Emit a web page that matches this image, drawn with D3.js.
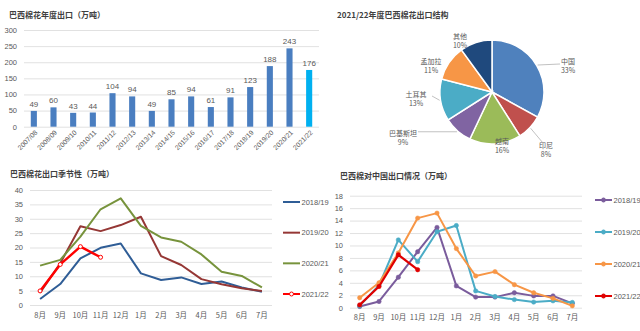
<!DOCTYPE html>
<html><head><meta charset="utf-8">
<script src="https://cdn.jsdelivr.net/npm/d3@7"></script>
<style>
html,body{margin:0;padding:0;background:#fff;}
svg{display:block;font-family:"Liberation Sans","Noto Sans CJK SC",sans-serif;}
.title{font-family:"Noto Sans CJK SC",sans-serif;font-weight:bold;font-size:8px;fill:#404040;}
.tick text{fill:#595959;}
</style></head>
<body>
<script>
// ---------- data ----------
const years = ["2007/08","2008/09","2009/10","2010/11","2011/12","2012/13","2013/14","2014/15","2015/16","2016/17","2017/18","2018/19","2019/20","2020/21","2021/22"];
const annualExports = [49,60,43,44,104,94,49,85,94,61,91,123,188,243,176];
const annualTicks = [0,50,100,150,200,250,300];

const destinations = ["中国","印尼","越南","巴基斯坦","土耳其","孟加拉","其他"];
const destShares = [33,8,16,9,13,11,10];

const months = ["8月","9月","10月","11月","12月","1月","2月","3月","4月","5月","6月","7月"];
const seasonNames = ["2018/19","2019/20","2020/21","2021/22"];
const total1819 = [2.1,7.3,16.2,19.9,21.4,11.0,8.7,9.6,7.3,8.2,6.1,4.6];
const total1920 = [4.3,14.5,27.4,25.7,27.8,30.7,17.0,13.9,9.0,7.2,5.8,4.9];
const total2021 = [13.7,15.7,23.8,33.3,37.1,27.5,23.5,22.0,17.6,11.6,10.1,6.1];
const total2122 = [4.9,14.1,20.3,16.6];
const totalTicks = [0,5,10,15,20,25,30,35,40];

const china1819 = [0.2,1.0,4.9,9.0,12.9,3.5,1.7,1.7,2.4,1.9,1.9,0.7];
const china1920 = [0.3,3.6,10.9,7.4,12.2,13.2,2.7,1.8,1.3,0.9,1.1,0.85];
const china2021 = [1.6,4.0,8.8,14.4,15.2,9.5,5.1,5.8,3.7,2.4,1.5,0.3];
const china2122 = [0.45,3.4,8.5,6.1];
const chinaTicks = [0,2,4,6,8,10,12,14,16,18];

// ---------- layout / styles ----------
const svg = d3.select("body").append("svg").attr("width",640).attr("height",331);
svg.append("rect").attr("width",640).attr("height",331).attr("fill","#fff");
const gridColor = "#d9d9d9", txtColor = "#595959";

function gridAxis(g, y, x0, x1, ticks, labelX){
  const ax = g.append("g").attr("transform",`translate(${x0},0)`)
    .call(d3.axisLeft(y).tickValues(ticks).tickSize(-(x1-x0)).tickPadding(x0-labelX));
  ax.select(".domain").remove();
  ax.selectAll(".tick line").attr("stroke",gridColor).attr("stroke-width",0.8);
  ax.selectAll(".tick text").attr("font-size",7.5).attr("fill",txtColor);
  return ax;
}

// ===== Panel 1: annual exports bar =====
{
  const g = svg.append("g");
  g.append("text").attr("class","title").attr("x",9).attr("y",18).text("巴西棉花年度出口（万吨）");
  const x = d3.scaleBand().domain(years).range([24,319]);
  const y = d3.scaleLinear().domain([0,300]).range([126.7,30]);
  gridAxis(g, y, 24, 319, annualTicks, 17);
  const bw = x.bandwidth()*0.31;
  g.selectAll("rect.bar").data(annualExports).join("rect")
    .attr("x",(d,i)=>x(years[i])+x.bandwidth()/2-bw/2)
    .attr("y",d=>y(d)).attr("width",bw).attr("height",d=>y(0)-y(d))
    .attr("fill",(d,i)=>i===years.length-1?"#00b0f0":"#4a7ec0");
  g.selectAll("text.val").data(annualExports).join("text")
    .attr("x",(d,i)=>x(years[i])+x.bandwidth()/2).attr("y",d=>y(d)-4)
    .attr("text-anchor","middle").attr("font-size",8).attr("fill",txtColor).text(d=>d);
  g.selectAll("text.xl").data(years).join("text")
    .attr("text-anchor","end").attr("font-size",6.8).attr("fill",txtColor)
    .attr("transform",d=>`translate(${x(d)+x.bandwidth()/2+4},133) rotate(-45)`).text(d=>d);
}

// ===== Panel 2: pie =====
{
  const g = svg.append("g");
  g.append("text").attr("class","title").attr("x",337).attr("y",18).text("2021/22年度巴西棉花出口结构");
  const cx=492, cy=92, R=52;
  const colors = ["#4f81bd","#c0504d","#9bbb59","#8064a2","#4bacc6","#f79646","#1f497d"];
  const pie = d3.pie().sort(null).value(d=>d)(destShares);
  const arc = d3.arc().innerRadius(0).outerRadius(R);
  const pg = g.append("g").attr("transform",`translate(${cx},${cy})`);
  pg.selectAll("path").data(pie).join("path").attr("d",arc)
    .attr("fill",(d,i)=>colors[i]).attr("stroke","#fff").attr("stroke-width",1.5);
  // label layout (offsets from pie centre) and optional leader end
  const labelLayout = [
    {dx:76,dy:-31,lead:[68,-28]},
    {dx:54,dy:53,lead:[51,51]},
    {dx:10,dy:49,lead:null},
    {dx:-89,dy:41,lead:[-74,39]},
    {dx:-76,dy:2,lead:[-60,4]},
    {dx:-61,dy:-31,lead:null},
    {dx:-32,dy:-56,lead:null}
  ];
  pie.forEach((p,i)=>{
    const L = labelLayout[i];
    const a = (p.startAngle+p.endAngle)/2;
    if(L.lead){
      const ex = Math.sin(a)*(R+1), ey = -Math.cos(a)*(R+1);
      let pts;
      if(i===3) pts=[[ex,ey],[L.lead[0],ey]];
      else pts=[[ex,ey],L.lead];
      pg.append("path").attr("d",d3.line()(pts)).attr("fill","none")
        .attr("stroke","#a6a6a6").attr("stroke-width",0.7);
    }
    const t = pg.append("text").attr("text-anchor","middle").attr("font-size",7)
      .attr("fill",txtColor).attr("font-family","'Noto Sans CJK SC',sans-serif");
    t.append("tspan").attr("x",L.dx).attr("y",L.dy+2.5).text(destinations[i]);
    t.append("tspan").attr("x",L.dx).attr("y",L.dy+12).text(destShares[i]+"%");
  });
}

// ===== generic line panel =====
function linePanel(opt){
  const g = svg.append("g");
  g.append("text").attr("class","title").attr("x",opt.titleX).attr("y",opt.titleY).text(opt.title);
  const x = d3.scalePoint().domain(months).range([opt.x0,opt.x1]).padding(0.5);
  const y = d3.scaleLinear().domain(opt.domain).range([opt.y0,opt.y1]);
  gridAxis(g, y, opt.x0, opt.x1, opt.ticks, opt.labelX);
  g.selectAll("text.xl").data(months).join("text")
    .attr("x",d=>x(d)).attr("y",opt.xLabelY).attr("text-anchor","middle")
    .attr("font-size",7.5).attr("fill",txtColor)
    .attr("font-family","'Noto Sans CJK SC',sans-serif").text(d=>d);
  const line = d3.line().x((d,i)=>x(months[i])).y(d=>y(d));
  opt.series.forEach((s,k)=>{
    g.append("path").datum(s).attr("d",line).attr("fill","none")
      .attr("stroke",opt.colors[k]).attr("stroke-width",opt.widths[k]).attr("stroke-linejoin","round");
    if(opt.markers[k]){
      g.selectAll(null).data(s).join("circle")
        .attr("cx",(d,i)=>x(months[i])).attr("cy",d=>y(d)).attr("r",opt.markers[k]==="open"?2:2.2)
        .attr("fill",opt.markers[k]==="open"?"#fff":opt.colors[k])
        .attr("stroke",opt.colors[k]).attr("stroke-width",opt.markers[k]==="open"?1:0.5);
    }
  });
  const ly = d3.scalePoint().domain(seasonNames).range(opt.legendY);
  seasonNames.forEach((n,k)=>{
    const yy = ly(n);
    g.append("line").attr("x1",opt.legendX).attr("x2",opt.legendX+17).attr("y1",yy).attr("y2",yy)
      .attr("stroke",opt.colors[k]).attr("stroke-width",2);
    if(opt.markers[k]){
      g.append("circle").attr("cx",opt.legendX+8.5).attr("cy",yy).attr("r",2)
        .attr("fill",opt.markers[k]==="open"?"#fff":opt.colors[k]).attr("stroke",opt.colors[k]).attr("stroke-width",1);
    }
    g.append("text").attr("x",opt.legendX+18.5).attr("y",yy).attr("dy","0.35em")
      .attr("font-size",7.5).attr("fill",txtColor).text(n);
  });
}

linePanel({
  title:"巴西棉花出口季节性（万吨）", titleX:10, titleY:177,
  x0:30, x1:272, y0:305, y1:190, domain:[0,40], ticks:totalTicks, labelX:23, xLabelY:318,
  series:[total1819,total1920,total2021,total2122],
  colors:["#2f5d96","#953735","#77933c","#ff0000"],
  widths:[2,2,2,2.4],
  markers:[null,null,null,"open"],
  legendX:283, legendY:[202,294]
});

linePanel({
  title:"巴西棉对中国出口情况（万吨）", titleX:340, titleY:179,
  x0:350, x1:582, y0:307.7, y1:195.7, domain:[0,18], ticks:chinaTicks, labelX:343, xLabelY:320,
  series:[china1819,china1920,china2021,china2122],
  colors:["#7a5c9c","#4bacc6","#f79646","#e00000"],
  widths:[2,2,2,2.2],
  markers:["fill","fill","fill","fill"],
  legendX:595, legendY:[200,296]
});
</script>
</body></html>
